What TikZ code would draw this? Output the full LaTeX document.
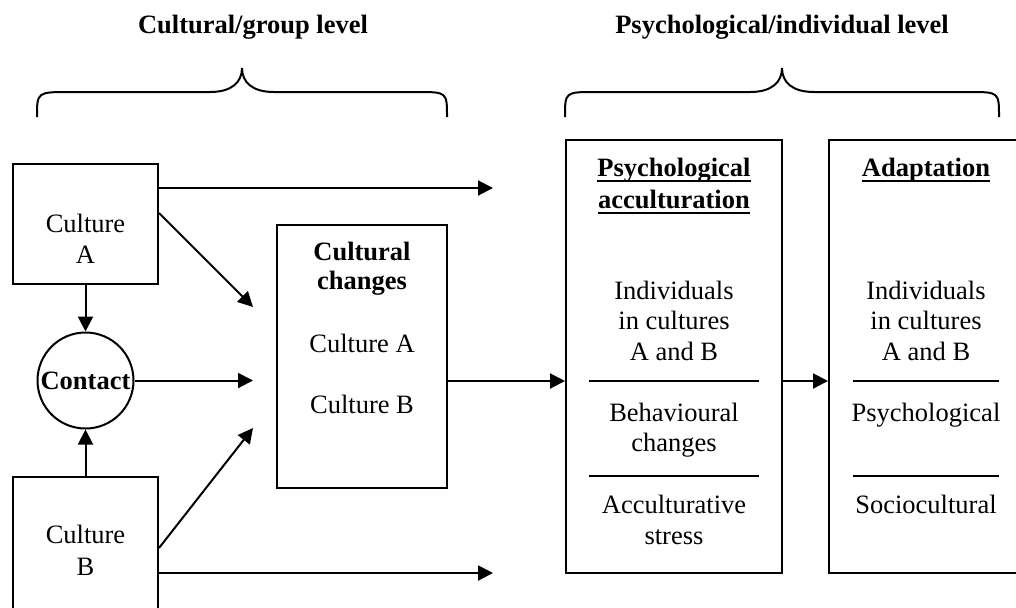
\documentclass[tikz,border=0pt]{standalone}
\usepackage{fontspec}
\setmainfont{Liberation Serif}
\usetikzlibrary{arrows.meta}
\begin{document}
\begin{tikzpicture}[x=0.5pt,y=-0.5pt,
  box/.style={draw,line width=1pt,inner sep=0pt},
  arr/.style={line width=1pt,-{Triangle[length=7.5pt,width=7.5pt]}},
  lbl/.style={anchor=base,inner sep=0pt,font=\fontsize{13.25}{15}\selectfont},
  lblb/.style={anchor=base,inner sep=0pt,font=\fontsize{13.25}{15}\selectfont\bfseries},
  sepline/.style={line width=1pt},
  bracepath/.style={line width=1pt},
  uline/.style={line width=1.3pt}]
\clip (0,0) rectangle (1016,607);

% titles
\node[lblb] (t1) at (253,33) {Cultural/group level};
\node[lblb] (t2) at (782,33) {Psychological/individual level};

% braces
\draw[bracepath] (37,117) .. controls (37,92) .. (70,92) -- (210,92)
  .. controls (232,92) and (242,82) .. (242,68)
  .. controls (242,82) and (252,92) .. (274,92) -- (417,92)
  .. controls (447,92) .. (447,117);
\draw[bracepath] (565,117) .. controls (565,92) .. (595,92) -- (750,92)
  .. controls (772,92) and (782,82) .. (782,68)
  .. controls (782,82) and (792,92) .. (814,92) -- (969,92)
  .. controls (999,92) .. (999,117);

% boxes
\node[box,minimum width=72.5pt,minimum height=60pt] (cA) at (85.5,224) {};
\node[box,minimum width=72.5pt,minimum height=70pt] (cB) at (85.5,547) {};
\node[box,circle,minimum size=48pt,font=\fontsize{13.25}{15}\selectfont\bfseries] (ct) at (85.5,380.5) {Contact};
\node[box,minimum width=85pt,minimum height=131.5pt] (cc) at (362,356.5) {};
\node[box,minimum width=108pt,minimum height=216.5pt] (psy) at (674,356.5) {};
\node[box,minimum width=97pt,minimum height=216.5pt] (ad) at (926,356.5) {};

% box texts
\node[lbl] (a1) at (85.5,232) {Culture};
\node[lbl] (a2) at (85.5,263) {A};
\node[lbl] (b1) at (85.5,543) {Culture};
\node[lbl] (b2) at (85.5,575) {B};

\node[lblb] (c1) at (362,260) {Cultural};
\node[lblb] (c2) at (362,289) {changes};
\node[lbl] (c3) at (362,352) {Culture A};
\node[lbl] (c4) at (362,413) {Culture B};

\node[lblb] (p1) at (674,176) {Psychological};
\node[lblb] (p2) at (674,208) {acculturation};
\draw[uline] ([yshift=-2.5pt]p1.base west) -- ([yshift=-2.5pt]p1.base east);
\draw[uline] ([yshift=-2.5pt]p2.base west) -- ([yshift=-2.5pt]p2.base east);
\node[lbl] (p3) at (674,299) {Individuals};
\node[lbl] (p4) at (674,329) {in cultures};
\node[lbl] (p5) at (674,360) {A and B};
\node[lbl] (p6) at (674,421) {Behavioural};
\node[lbl] (p7) at (674,451) {changes};
\node[lbl] (p8) at (674,513) {Acculturative};
\node[lbl] (p9) at (674,544) {stress};
\draw[sepline] (589,381) -- (759,381);
\draw[sepline] (589,476) -- (759,476);

\node[lblb] (d1) at (926,176) {Adaptation};
\draw[uline] ([yshift=-2.5pt]d1.base west) -- ([yshift=-2.5pt]d1.base east);
\node[lbl] (d3) at (926,299) {Individuals};
\node[lbl] (d4) at (926,329) {in cultures};
\node[lbl] (d5) at (926,360) {A and B};
\node[lbl] (d6) at (926,421) {Psychological};
\node[lbl] (d8) at (926,513) {Sociocultural};
\draw[sepline] (853,381) -- (999,381);
\draw[sepline] (853,476) -- (999,476);

% free arrow ends
\coordinate (topend) at (493,188);
\coordinate (botend) at (493,573);
\coordinate (dAend) at (253,307);
\coordinate (ctend) at (253,380.5);
\coordinate (dBend) at (253,428);
\coordinate (midA) at (0,381);

% connectors
\draw[arr] (cA.south) -- (ct.north);
\draw[arr] (cB.north) -- (ct.south);
\draw[arr] (ct.east) -- (ctend);
\draw[arr] (cA.east |- topend) -- (topend);
\draw[arr] (cB.east |- botend) -- (botend);
\draw[arr] ([yshift=5.5pt]cA.east) -- (dAend);
\draw[arr] (cB.east |- 0,548) -- (dBend);
\draw[arr] (cc.east |- midA) -- (psy.west |- midA);
\draw[arr] (psy.east |- midA) -- (ad.west |- midA);
\end{tikzpicture}
\end{document}
